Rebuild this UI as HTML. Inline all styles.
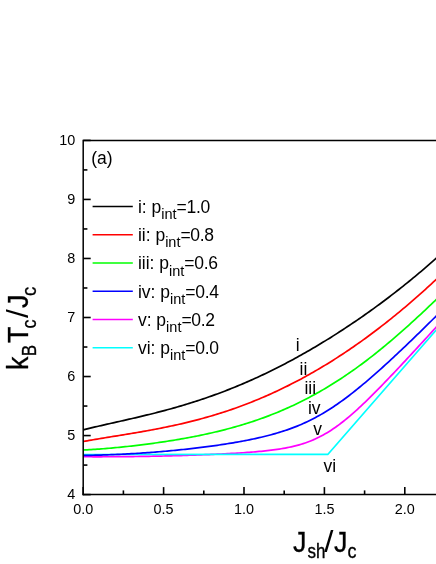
<!DOCTYPE html>
<html><head><meta charset="utf-8"><title>Tc vs Jsh</title>
<style>
html,body{margin:0;padding:0;background:#fff;}
body{width:436px;height:564px;overflow:hidden;}
svg{display:block;font-family:"Liberation Sans",sans-serif;fill:#000;will-change:transform;opacity:0.999;}
</style></head><body>
<svg width="436" height="564" viewBox="0 0 436 564">
<rect width="436" height="564" fill="#fff"/>
<g fill="none" stroke-width="1.7" stroke-linejoin="round">
<path d="M83.2,429.85 L85.2,429.35 L87.2,428.86 L89.2,428.38 L91.2,427.90 L93.2,427.43 L95.2,426.95 L97.2,426.49 L99.2,426.02 L101.2,425.56 L103.2,425.10 L105.2,424.65 L107.2,424.19 L109.2,423.74 L111.2,423.29 L113.2,422.83 L115.2,422.38 L117.2,421.93 L119.2,421.48 L121.2,421.03 L123.2,420.57 L125.2,420.12 L127.2,419.66 L129.2,419.20 L131.2,418.74 L133.2,418.28 L135.2,417.81 L137.2,417.34 L139.2,416.87 L141.2,416.40 L143.2,415.92 L145.2,415.43 L147.2,414.95 L149.2,414.45 L151.2,413.96 L153.2,413.46 L155.2,412.95 L157.2,412.44 L159.2,411.92 L161.2,411.40 L163.2,410.87 L165.2,410.34 L167.2,409.80 L169.2,409.25 L171.2,408.70 L173.2,408.14 L175.2,407.57 L177.2,407.00 L179.2,406.42 L181.2,405.84 L183.2,405.24 L185.2,404.64 L187.2,404.03 L189.2,403.41 L191.2,402.79 L193.2,402.16 L195.2,401.52 L197.2,400.87 L199.2,400.21 L201.2,399.55 L203.2,398.88 L205.2,398.20 L207.2,397.51 L209.2,396.81 L211.2,396.10 L213.2,395.39 L215.2,394.67 L217.2,393.93 L219.2,393.19 L221.2,392.44 L223.2,391.68 L225.2,390.92 L227.2,390.14 L229.2,389.36 L231.2,388.56 L233.2,387.76 L235.2,386.95 L237.2,386.12 L239.2,385.29 L241.2,384.45 L243.2,383.60 L245.2,382.75 L247.2,381.88 L249.2,381.00 L251.2,380.12 L253.2,379.22 L255.2,378.32 L257.2,377.40 L259.2,376.48 L261.2,375.55 L263.2,374.61 L265.2,373.65 L267.2,372.70 L269.2,371.73 L271.2,370.75 L273.2,369.76 L275.2,368.76 L277.2,367.76 L279.2,366.74 L281.2,365.72 L283.2,364.68 L285.2,363.64 L287.2,362.59 L289.2,361.53 L291.2,360.46 L293.2,359.38 L295.2,358.29 L297.2,357.19 L299.2,356.09 L301.2,354.97 L303.2,353.85 L305.2,352.71 L307.2,351.57 L309.2,350.42 L311.2,349.26 L313.2,348.09 L315.2,346.91 L317.2,345.72 L319.2,344.52 L321.2,343.32 L323.2,342.10 L325.2,340.88 L327.2,339.65 L329.2,338.41 L331.2,337.16 L333.2,335.90 L335.2,334.63 L337.2,333.35 L339.2,332.07 L341.2,330.77 L343.2,329.47 L345.2,328.15 L347.2,326.83 L349.2,325.50 L351.2,324.16 L353.2,322.81 L355.2,321.45 L357.2,320.09 L359.2,318.71 L361.2,317.33 L363.2,315.93 L365.2,314.53 L367.2,313.12 L369.2,311.69 L371.2,310.26 L373.2,308.82 L375.2,307.37 L377.2,305.91 L379.2,304.45 L381.2,302.97 L383.2,301.48 L385.2,299.98 L387.2,298.48 L389.2,296.96 L391.2,295.43 L393.2,293.90 L395.2,292.35 L397.2,290.79 L399.2,289.23 L401.2,287.65 L403.2,286.06 L405.2,284.46 L407.2,282.85 L409.2,281.23 L411.2,279.60 L413.2,277.96 L415.2,276.31 L417.2,274.65 L419.2,272.97 L421.2,271.29 L423.2,269.59 L425.2,267.88 L427.2,266.16 L429.2,264.42 L431.2,262.68 L433.2,260.92 L435.2,259.15 L437.2,257.36 L439.2,255.57" stroke="#000000"/>
<path d="M83.2,441.52 L85.2,441.16 L87.2,440.80 L89.2,440.45 L91.2,440.10 L93.2,439.76 L95.2,439.42 L97.2,439.08 L99.2,438.75 L101.2,438.42 L103.2,438.09 L105.2,437.76 L107.2,437.43 L109.2,437.10 L111.2,436.78 L113.2,436.45 L115.2,436.13 L117.2,435.81 L119.2,435.48 L121.2,435.15 L123.2,434.83 L125.2,434.50 L127.2,434.17 L129.2,433.84 L131.2,433.50 L133.2,433.17 L135.2,432.83 L137.2,432.49 L139.2,432.14 L141.2,431.80 L143.2,431.44 L145.2,431.09 L147.2,430.73 L149.2,430.37 L151.2,430.00 L153.2,429.62 L155.2,429.25 L157.2,428.86 L159.2,428.48 L161.2,428.08 L163.2,427.68 L165.2,427.28 L167.2,426.87 L169.2,426.45 L171.2,426.02 L173.2,425.59 L175.2,425.16 L177.2,424.71 L179.2,424.26 L181.2,423.80 L183.2,423.34 L185.2,422.86 L187.2,422.38 L189.2,421.89 L191.2,421.39 L193.2,420.89 L195.2,420.38 L197.2,419.85 L199.2,419.32 L201.2,418.78 L203.2,418.24 L205.2,417.68 L207.2,417.11 L209.2,416.54 L211.2,415.95 L213.2,415.36 L215.2,414.76 L217.2,414.14 L219.2,413.52 L221.2,412.89 L223.2,412.25 L225.2,411.60 L227.2,410.94 L229.2,410.26 L231.2,409.58 L233.2,408.89 L235.2,408.19 L237.2,407.48 L239.2,406.75 L241.2,406.02 L243.2,405.27 L245.2,404.52 L247.2,403.75 L249.2,402.98 L251.2,402.19 L253.2,401.39 L255.2,400.58 L257.2,399.76 L259.2,398.93 L261.2,398.09 L263.2,397.24 L265.2,396.37 L267.2,395.50 L269.2,394.61 L271.2,393.71 L273.2,392.81 L275.2,391.89 L277.2,390.95 L279.2,390.01 L281.2,389.06 L283.2,388.09 L285.2,387.11 L287.2,386.12 L289.2,385.12 L291.2,384.11 L293.2,383.09 L295.2,382.05 L297.2,381.00 L299.2,379.95 L301.2,378.88 L303.2,377.79 L305.2,376.70 L307.2,375.60 L309.2,374.48 L311.2,373.35 L313.2,372.21 L315.2,371.06 L317.2,369.89 L319.2,368.72 L321.2,367.53 L323.2,366.33 L325.2,365.12 L327.2,363.90 L329.2,362.67 L331.2,361.42 L333.2,360.16 L335.2,358.89 L337.2,357.61 L339.2,356.32 L341.2,355.01 L343.2,353.70 L345.2,352.37 L347.2,351.03 L349.2,349.68 L351.2,348.31 L353.2,346.94 L355.2,345.55 L357.2,344.15 L359.2,342.74 L361.2,341.32 L363.2,339.89 L365.2,338.44 L367.2,336.98 L369.2,335.51 L371.2,334.03 L373.2,332.54 L375.2,331.03 L377.2,329.52 L379.2,327.99 L381.2,326.45 L383.2,324.89 L385.2,323.33 L387.2,321.75 L389.2,320.17 L391.2,318.57 L393.2,316.96 L395.2,315.33 L397.2,313.70 L399.2,312.05 L401.2,310.39 L403.2,308.72 L405.2,307.04 L407.2,305.34 L409.2,303.63 L411.2,301.92 L413.2,300.18 L415.2,298.44 L417.2,296.69 L419.2,294.92 L421.2,293.14 L423.2,291.35 L425.2,289.54 L427.2,287.73 L429.2,285.90 L431.2,284.06 L433.2,282.21 L435.2,280.34 L437.2,278.47 L439.2,276.58" stroke="#ff0000"/>
<path d="M83.2,450.00 L85.2,449.90 L87.2,449.80 L89.2,449.68 L91.2,449.57 L93.2,449.44 L95.2,449.31 L97.2,449.18 L99.2,449.03 L101.2,448.89 L103.2,448.73 L105.2,448.57 L107.2,448.41 L109.2,448.24 L111.2,448.06 L113.2,447.88 L115.2,447.70 L117.2,447.51 L119.2,447.31 L121.2,447.11 L123.2,446.91 L125.2,446.70 L127.2,446.49 L129.2,446.27 L131.2,446.05 L133.2,445.82 L135.2,445.59 L137.2,445.35 L139.2,445.11 L141.2,444.87 L143.2,444.62 L145.2,444.36 L147.2,444.10 L149.2,443.84 L151.2,443.57 L153.2,443.30 L155.2,443.02 L157.2,442.74 L159.2,442.46 L161.2,442.16 L163.2,441.87 L165.2,441.57 L167.2,441.26 L169.2,440.95 L171.2,440.63 L173.2,440.31 L175.2,439.98 L177.2,439.64 L179.2,439.30 L181.2,438.96 L183.2,438.60 L185.2,438.25 L187.2,437.88 L189.2,437.51 L191.2,437.13 L193.2,436.75 L195.2,436.36 L197.2,435.96 L199.2,435.55 L201.2,435.14 L203.2,434.72 L205.2,434.29 L207.2,433.86 L209.2,433.42 L211.2,432.97 L213.2,432.51 L215.2,432.04 L217.2,431.56 L219.2,431.08 L221.2,430.58 L223.2,430.08 L225.2,429.57 L227.2,429.05 L229.2,428.51 L231.2,427.97 L233.2,427.42 L235.2,426.86 L237.2,426.29 L239.2,425.71 L241.2,425.11 L243.2,424.51 L245.2,423.90 L247.2,423.27 L249.2,422.63 L251.2,421.98 L253.2,421.32 L255.2,420.65 L257.2,419.97 L259.2,419.27 L261.2,418.56 L263.2,417.84 L265.2,417.11 L267.2,416.36 L269.2,415.60 L271.2,414.82 L273.2,414.04 L275.2,413.24 L277.2,412.42 L279.2,411.60 L281.2,410.75 L283.2,409.90 L285.2,409.03 L287.2,408.14 L289.2,407.24 L291.2,406.33 L293.2,405.40 L295.2,404.46 L297.2,403.50 L299.2,402.53 L301.2,401.54 L303.2,400.53 L305.2,399.51 L307.2,398.48 L309.2,397.43 L311.2,396.36 L313.2,395.28 L315.2,394.18 L317.2,393.07 L319.2,391.94 L321.2,390.79 L323.2,389.63 L325.2,388.45 L327.2,387.25 L329.2,386.04 L331.2,384.82 L333.2,383.57 L335.2,382.31 L337.2,381.04 L339.2,379.74 L341.2,378.44 L343.2,377.11 L345.2,375.77 L347.2,374.41 L349.2,373.04 L351.2,371.65 L353.2,370.24 L355.2,368.82 L357.2,367.38 L359.2,365.92 L361.2,364.45 L363.2,362.97 L365.2,361.47 L367.2,359.95 L369.2,358.42 L371.2,356.87 L373.2,355.30 L375.2,353.73 L377.2,352.13 L379.2,350.53 L381.2,348.90 L383.2,347.27 L385.2,345.62 L387.2,343.95 L389.2,342.27 L391.2,340.58 L393.2,338.87 L395.2,337.16 L397.2,335.42 L399.2,333.68 L401.2,331.92 L403.2,330.16 L405.2,328.38 L407.2,326.59 L409.2,324.78 L411.2,322.97 L413.2,321.15 L415.2,319.32 L417.2,317.47 L419.2,315.62 L421.2,313.76 L423.2,311.89 L425.2,310.02 L427.2,308.13 L429.2,306.24 L431.2,304.35 L433.2,302.44 L435.2,300.53 L437.2,298.62 L439.2,296.70" stroke="#00ff00"/>
<path d="M83.2,456.75 L85.2,456.76 L87.2,456.76 L89.2,456.77 L91.2,456.77 L93.2,456.78 L95.2,456.78 L97.2,456.78 L99.2,456.78 L101.2,456.78 L103.2,456.77 L105.2,456.77 L107.2,456.76 L109.2,456.75 L111.2,456.74 L113.2,456.73 L115.2,456.72 L117.2,456.71 L119.2,456.69 L121.2,456.67 L123.2,456.66 L125.2,456.64 L127.2,456.62 L129.2,456.59 L131.2,456.57 L133.2,456.55 L135.2,456.52 L137.2,456.49 L139.2,456.46 L141.2,456.43 L143.2,456.40 L145.2,456.37 L147.2,456.33 L149.2,456.30 L151.2,456.26 L153.2,456.22 L155.2,456.18 L157.2,456.14 L159.2,456.10 L161.2,456.05 L163.2,456.01 L165.2,455.96 L167.2,455.91 L169.2,455.86 L171.2,455.81 L173.2,455.75 L175.2,455.70 L177.2,455.64 L179.2,455.59 L181.2,455.53 L183.2,455.47 L185.2,455.40 L187.2,455.34 L189.2,455.27 L191.2,455.21 L193.2,455.14 L195.2,455.07 L197.2,455.00 L199.2,454.92 L201.2,454.85 L203.2,454.77 L205.2,454.69 L207.2,454.61 L209.2,454.53 L211.2,454.44 L213.2,454.35 L215.2,454.26 L217.2,454.17 L219.2,454.08 L221.2,453.98 L223.2,453.88 L225.2,453.78 L227.2,453.68 L229.2,453.57 L231.2,453.46 L233.2,453.35 L235.2,453.23 L237.2,453.11 L239.2,452.99 L241.2,452.86 L243.2,452.73 L245.2,452.59 L247.2,452.45 L249.2,452.30 L251.2,452.15 L253.2,451.99 L255.2,451.83 L257.2,451.65 L259.2,451.47 L261.2,451.28 L263.2,451.09 L265.2,450.88 L267.2,450.66 L269.2,450.43 L271.2,450.19 L273.2,449.94 L275.2,449.67 L277.2,449.38 L279.2,449.08 L281.2,448.76 L283.2,448.43 L285.2,448.07 L287.2,447.68 L289.2,447.28 L291.2,446.85 L293.2,446.39 L295.2,445.90 L297.2,445.38 L299.2,444.83 L301.2,444.24 L303.2,443.61 L305.2,442.95 L307.2,442.25 L309.2,441.50 L311.2,440.71 L313.2,439.88 L315.2,438.99 L317.2,438.06 L319.2,437.09 L321.2,436.06 L323.2,434.98 L325.2,433.85 L327.2,432.67 L329.2,431.44 L331.2,430.16 L333.2,428.83 L335.2,427.46 L337.2,426.03 L339.2,424.56 L341.2,423.05 L343.2,421.49 L345.2,419.89 L347.2,418.25 L349.2,416.57 L351.2,414.86 L353.2,413.12 L355.2,411.34 L357.2,409.53 L359.2,407.69 L361.2,405.83 L363.2,403.94 L365.2,402.03 L367.2,400.09 L369.2,398.14 L371.2,396.17 L373.2,394.18 L375.2,392.17 L377.2,390.15 L379.2,388.12 L381.2,386.07 L383.2,384.01 L385.2,381.94 L387.2,379.86 L389.2,377.77 L391.2,375.67 L393.2,373.57 L395.2,371.46 L397.2,369.34 L399.2,367.21 L401.2,365.08 L403.2,362.94 L405.2,360.80 L407.2,358.65 L409.2,356.50 L411.2,354.34 L413.2,352.18 L415.2,350.02 L417.2,347.85 L419.2,345.68 L421.2,343.50 L423.2,341.33 L425.2,339.15 L427.2,336.96 L429.2,334.78 L431.2,332.59 L433.2,330.40 L435.2,328.21 L437.2,326.02 L439.2,323.82" stroke="#ff00ff"/>
<path d="M83.2,454.5 L328.0,454.3 L440,325.61" stroke="#00ffff"/>
<path d="M83.2,455.45 L85.2,455.41 L87.2,455.38 L89.2,455.34 L91.2,455.30 L93.2,455.25 L95.2,455.20 L97.2,455.15 L99.2,455.09 L101.2,455.03 L103.2,454.97 L105.2,454.90 L107.2,454.83 L109.2,454.76 L111.2,454.68 L113.2,454.60 L115.2,454.52 L117.2,454.43 L119.2,454.34 L121.2,454.24 L123.2,454.14 L125.2,454.04 L127.2,453.93 L129.2,453.83 L131.2,453.71 L133.2,453.60 L135.2,453.48 L137.2,453.35 L139.2,453.23 L141.2,453.10 L143.2,452.96 L145.2,452.82 L147.2,452.68 L149.2,452.54 L151.2,452.39 L153.2,452.24 L155.2,452.08 L157.2,451.92 L159.2,451.76 L161.2,451.59 L163.2,451.42 L165.2,451.24 L167.2,451.07 L169.2,450.88 L171.2,450.70 L173.2,450.51 L175.2,450.32 L177.2,450.12 L179.2,449.92 L181.2,449.71 L183.2,449.50 L185.2,449.29 L187.2,449.07 L189.2,448.85 L191.2,448.63 L193.2,448.40 L195.2,448.16 L197.2,447.92 L199.2,447.68 L201.2,447.43 L203.2,447.18 L205.2,446.93 L207.2,446.67 L209.2,446.40 L211.2,446.13 L213.2,445.85 L215.2,445.57 L217.2,445.29 L219.2,445.00 L221.2,444.70 L223.2,444.40 L225.2,444.09 L227.2,443.77 L229.2,443.45 L231.2,443.12 L233.2,442.79 L235.2,442.45 L237.2,442.10 L239.2,441.74 L241.2,441.38 L243.2,441.01 L245.2,440.63 L247.2,440.24 L249.2,439.84 L251.2,439.43 L253.2,439.01 L255.2,438.59 L257.2,438.15 L259.2,437.70 L261.2,437.23 L263.2,436.76 L265.2,436.27 L267.2,435.77 L269.2,435.25 L271.2,434.72 L273.2,434.17 L275.2,433.60 L277.2,433.02 L279.2,432.42 L281.2,431.80 L283.2,431.17 L285.2,430.51 L287.2,429.83 L289.2,429.13 L291.2,428.40 L293.2,427.66 L295.2,426.89 L297.2,426.09 L299.2,425.27 L301.2,424.42 L303.2,423.54 L305.2,422.64 L307.2,421.71 L309.2,420.75 L311.2,419.76 L313.2,418.74 L315.2,417.69 L317.2,416.61 L319.2,415.51 L321.2,414.37 L323.2,413.20 L325.2,412.00 L327.2,410.78 L329.2,409.52 L331.2,408.23 L333.2,406.92 L335.2,405.58 L337.2,404.21 L339.2,402.81 L341.2,401.39 L343.2,399.94 L345.2,398.47 L347.2,396.97 L349.2,395.45 L351.2,393.90 L353.2,392.34 L355.2,390.75 L357.2,389.15 L359.2,387.52 L361.2,385.87 L363.2,384.21 L365.2,382.53 L367.2,380.84 L369.2,379.12 L371.2,377.40 L373.2,375.65 L375.2,373.90 L377.2,372.13 L379.2,370.35 L381.2,368.56 L383.2,366.75 L385.2,364.94 L387.2,363.11 L389.2,361.28 L391.2,359.43 L393.2,357.58 L395.2,355.71 L397.2,353.84 L399.2,351.96 L401.2,350.08 L403.2,348.18 L405.2,346.28 L407.2,344.37 L409.2,342.45 L411.2,340.53 L413.2,338.60 L415.2,336.67 L417.2,334.73 L419.2,332.78 L421.2,330.83 L423.2,328.87 L425.2,326.91 L427.2,324.95 L429.2,322.97 L431.2,321.00 L433.2,319.01 L435.2,317.03 L437.2,315.04 L439.2,313.04" stroke="#0000ff"/>
</g>
<g stroke="#000" stroke-width="1.5" fill="none">
<path d="M83.2,495.35 L83.2,140.4 L438,140.4"/>
<path d="M82.45,494.6 L438,494.6"/>
</g>
<g stroke="#000" stroke-width="1.6" fill="none">
<line x1="83.20" y1="494.6" x2="83.20" y2="487.1"/>
<line x1="123.40" y1="494.6" x2="123.40" y2="490.40000000000003"/>
<line x1="163.60" y1="494.6" x2="163.60" y2="487.1"/>
<line x1="203.80" y1="494.6" x2="203.80" y2="490.40000000000003"/>
<line x1="244.00" y1="494.6" x2="244.00" y2="487.1"/>
<line x1="284.20" y1="494.6" x2="284.20" y2="490.40000000000003"/>
<line x1="324.40" y1="494.6" x2="324.40" y2="487.1"/>
<line x1="364.60" y1="494.6" x2="364.60" y2="490.40000000000003"/>
<line x1="404.80" y1="494.6" x2="404.80" y2="487.1"/>
<line x1="83.2" y1="494.60" x2="90.7" y2="494.60"/>
<line x1="83.2" y1="465.08" x2="87.4" y2="465.08"/>
<line x1="83.2" y1="435.57" x2="90.7" y2="435.57"/>
<line x1="83.2" y1="406.05" x2="87.4" y2="406.05"/>
<line x1="83.2" y1="376.53" x2="90.7" y2="376.53"/>
<line x1="83.2" y1="347.02" x2="87.4" y2="347.02"/>
<line x1="83.2" y1="317.50" x2="90.7" y2="317.50"/>
<line x1="83.2" y1="287.98" x2="87.4" y2="287.98"/>
<line x1="83.2" y1="258.47" x2="90.7" y2="258.47"/>
<line x1="83.2" y1="228.95" x2="87.4" y2="228.95"/>
<line x1="83.2" y1="199.43" x2="90.7" y2="199.43"/>
<line x1="83.2" y1="169.92" x2="87.4" y2="169.92"/>
<line x1="83.2" y1="140.40" x2="90.7" y2="140.40"/>
</g>
<line x1="92.6" y1="206.4" x2="132.8" y2="206.4" stroke="#000000" stroke-width="1.5"/>
<text x="137.9" y="212.9" style="font-size:17.5px">i: p<tspan dy="6.2" style="font-size:14.5px">int</tspan><tspan dy="-6.2" style="letter-spacing:-0.3px">=1.0</tspan></text>
<line x1="92.6" y1="234.7" x2="132.8" y2="234.7" stroke="#ff0000" stroke-width="1.5"/>
<text x="137.9" y="241.2" style="font-size:17.5px">ii: p<tspan dy="6.2" style="font-size:14.5px">int</tspan><tspan dy="-6.2" style="letter-spacing:-0.3px">=0.8</tspan></text>
<line x1="92.6" y1="262.9" x2="132.8" y2="262.9" stroke="#00ff00" stroke-width="1.5"/>
<text x="137.9" y="269.4" style="font-size:17.5px">iii: p<tspan dy="6.2" style="font-size:14.5px">int</tspan><tspan dy="-6.2" style="letter-spacing:-0.3px">=0.6</tspan></text>
<line x1="92.6" y1="291.2" x2="132.8" y2="291.2" stroke="#0000ff" stroke-width="1.5"/>
<text x="137.9" y="297.7" style="font-size:17.5px">iv: p<tspan dy="6.2" style="font-size:14.5px">int</tspan><tspan dy="-6.2" style="letter-spacing:-0.3px">=0.4</tspan></text>
<line x1="92.6" y1="319.5" x2="132.8" y2="319.5" stroke="#ff00ff" stroke-width="1.5"/>
<text x="137.9" y="326.0" style="font-size:17.5px">v: p<tspan dy="6.2" style="font-size:14.5px">int</tspan><tspan dy="-6.2" style="letter-spacing:-0.3px">=0.2</tspan></text>
<line x1="92.6" y1="347.8" x2="132.8" y2="347.8" stroke="#00ffff" stroke-width="1.5"/>
<text x="137.9" y="354.2" style="font-size:17.5px">vi: p<tspan dy="6.2" style="font-size:14.5px">int</tspan><tspan dy="-6.2" style="letter-spacing:-0.3px">=0.0</tspan></text>
<text transform="translate(83.2,513.8)" text-anchor="middle" style="font-size:14.4px;">0.0</text>
<text transform="translate(163.6,513.8)" text-anchor="middle" style="font-size:14.4px;">0.5</text>
<text transform="translate(244.0,513.8)" text-anchor="middle" style="font-size:14.4px;">1.0</text>
<text transform="translate(324.4,513.8)" text-anchor="middle" style="font-size:14.4px;">1.5</text>
<text transform="translate(404.8,513.8)" text-anchor="middle" style="font-size:14.4px;">2.0</text>
<text transform="translate(75.2,498.8)" text-anchor="end" style="font-size:14.4px;">4</text>
<text transform="translate(75.2,439.8)" text-anchor="end" style="font-size:14.4px;">5</text>
<text transform="translate(75.2,380.7)" text-anchor="end" style="font-size:14.4px;">6</text>
<text transform="translate(75.2,321.7)" text-anchor="end" style="font-size:14.4px;">7</text>
<text transform="translate(75.2,262.7)" text-anchor="end" style="font-size:14.4px;">8</text>
<text transform="translate(75.2,203.6)" text-anchor="end" style="font-size:14.4px;">9</text>
<text transform="translate(75.2,144.6)" text-anchor="end" style="font-size:14.4px;">10</text>
<text transform="translate(91.2,164.2)" text-anchor="start" style="font-size:17.5px;">(a)</text>
<text transform="translate(297.7,351.3)" text-anchor="middle" style="font-size:17.5px;">i</text>
<text transform="translate(303.5,375.1)" text-anchor="middle" style="font-size:17.5px;">ii</text>
<text transform="translate(310.3,394)" text-anchor="middle" style="font-size:17.5px;">iii</text>
<text transform="translate(314.2,413.6)" text-anchor="middle" style="font-size:17.5px;">iv</text>
<text transform="translate(317.5,434.5)" text-anchor="middle" style="font-size:17.5px;">v</text>
<text transform="translate(329.7,472.4)" text-anchor="middle" style="font-size:17.5px;">vi</text>
<g stroke="#000" stroke-width="0.3">
<text transform="translate(293.0,551.5) scale(1.0,1.12)" text-anchor="start" style="font-size:27.0px;">J</text>
<text transform="translate(307.5,558.0) scale(1.0,1.21)" text-anchor="start" style="font-size:17.0px;">sh</text>
<text transform="translate(324.3,551.5) scale(1.22,1.12)" text-anchor="start" style="font-size:27.0px;stroke:none;">/</text>
<text transform="translate(333.9,551.5) scale(1.0,1.12)" text-anchor="start" style="font-size:27.0px;">J</text>
<text transform="translate(347.6,558.0) scale(1.0,1.142777777777778)" text-anchor="start" style="font-size:18px;">c</text>
<text transform="translate(27.8,370.0) rotate(-90) scale(1.0,1.12)" text-anchor="start" style="font-size:27.0px;">k</text>
<text transform="translate(35.7,356.2) rotate(-90) scale(1.0,1.21)" text-anchor="start" style="font-size:17.0px;">B</text>
<text transform="translate(27.8,342.9) rotate(-90) scale(1.0,1.12)" text-anchor="start" style="font-size:27.0px;">T</text>
<text transform="translate(35.7,328.4) rotate(-90) scale(1.0,1.142777777777778)" text-anchor="start" style="font-size:18px;">c</text>
<text transform="translate(27.8,317.9) rotate(-90) scale(1.18,1.12)" text-anchor="start" style="font-size:27.0px;stroke:none;">/</text>
<text transform="translate(27.8,307.9) rotate(-90) scale(1.0,1.12)" text-anchor="start" style="font-size:27.0px;">J</text>
<text transform="translate(35.7,295.9) rotate(-90) scale(1.0,1.1118918918918919)" text-anchor="start" style="font-size:18.5px;">c</text>
</g>
</svg>
</body></html>
